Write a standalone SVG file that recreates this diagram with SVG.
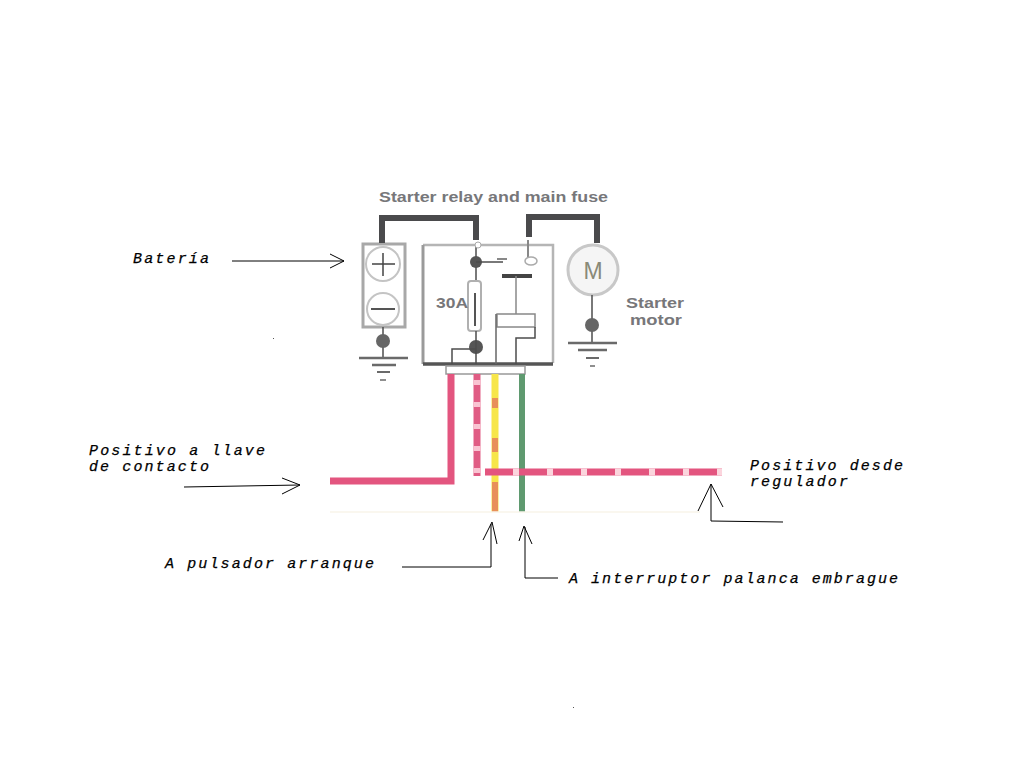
<svg xmlns="http://www.w3.org/2000/svg" width="1024" height="768" viewBox="0 0 1024 768">
<style>
.lbl{font-family:"Liberation Mono",monospace;font-style:italic;font-size:15px;fill:#000;stroke:#000;stroke-width:.25}
.prn{font-family:"Liberation Sans",sans-serif;font-weight:bold;fill:#77777a}
.thick{fill:none;stroke:#4a4a4c;stroke-width:6}
.box{fill:#fff;stroke:#a8a8a8;stroke-width:3}
.thin{fill:none;stroke:#4c4c4c;stroke-width:1.5}
.gnd{stroke:#6a6a6a;fill:none}
.ptr{fill:none;stroke:#000;stroke-width:1}
.pink{fill:none;stroke:#e3557f;stroke-width:7}
.dash{fill:none;stroke:#fbd5dd;stroke-width:7;stroke-dasharray:6 28}
</style>
<rect width="1024" height="768" fill="#fff"/>
<g id="title"><text class="prn" x="379" y="202" font-size="15.5" textLength="229" lengthAdjust="spacingAndGlyphs">Starter relay and main fuse</text></g>
<g id="battery">
<rect class="box" x="363" y="244" width="42" height="83"/>
<circle cx="383" cy="264" r="17" fill="#fff" stroke="#c4c4c4" stroke-width="2"/>
<circle cx="383" cy="309" r="16" fill="#fff" stroke="#c4c4c4" stroke-width="2"/>
<path d="M372 264H395M383 253V276" stroke="#444" stroke-width="1.5" fill="none"/>
<path d="M371 309H395" stroke="#555" stroke-width="2" fill="none"/>
<path class="thin" d="M383 327V358"/>
<circle cx="383" cy="341" r="7" fill="#666"/>
<path class="gnd" stroke-width="2.5" d="M359 358H408M372 365H396"/>
<path class="gnd" stroke-width="2" d="M377 372H390"/>
<path class="gnd" stroke-width="1.5" d="M380 380H386"/>
</g>
<g id="relay">
<path d="M423 245H553V363" fill="none" stroke="#b5b5b5" stroke-width="2.5"/>
<path d="M423 245V364" fill="none" stroke="#9a9a9a" stroke-width="3"/>
<path d="M423 364H553" stroke="#555" stroke-width="3.5" fill="none"/>
<path class="thin" d="M476 245V280"/>
<circle cx="476" cy="262" r="6" fill="#555"/>
<path class="thin" d="M476 262H503"/>
<circle cx="478" cy="245" r="3" fill="#fff" stroke="#aaa"/>
<path d="M497 259H507M528 240V258" stroke="#888" stroke-width="2" fill="none"/>
<ellipse cx="531" cy="261" rx="6" ry="4" fill="#fff" stroke="#aaa" stroke-width="1.5"/>
<path d="M502 276H532" stroke="#444" stroke-width="4"/>
<path d="M516 276V314" stroke="#888" stroke-width="1.5"/>
<rect x="468" y="281" width="13" height="50" rx="3" fill="#fff" stroke="#b0b0b0" stroke-width="2"/>
<path d="M475 293V326" stroke="#555" stroke-width="2"/>
<text class="prn" x="436" y="308" font-size="15" textLength="32" lengthAdjust="spacingAndGlyphs">30A</text>
<circle cx="476" cy="347" r="7" fill="#555"/>
<path class="thin" d="M476 331V364M476 349H452V364"/>
<rect x="497" y="314" width="38" height="13" fill="#fff" stroke="#888" stroke-width="1.5"/>
<path d="M496 314V364" stroke="#666" stroke-width="1.5"/>
<path class="thin" d="M535 327V338H516V364"/>
<rect x="446" y="366" width="79" height="8" fill="#fff" stroke="#999" stroke-width="1.5"/>
</g>
<g id="motor">
<circle cx="593" cy="270" r="25" fill="#f5f5f5" stroke="#c8c8c8" stroke-width="3"/>
<text x="593" y="279" text-anchor="middle" font-family="Liberation Sans, sans-serif" font-size="23" fill="#8a8a78">M</text>
<path class="thin" d="M592 295V342"/>
<circle cx="592" cy="325" r="7" fill="#666"/>
<path class="gnd" stroke-width="2.5" d="M568 343H617M578 350H607"/>
<path class="gnd" stroke-width="2" d="M586 358H599"/>
<path class="gnd" stroke-width="1.5" d="M590 366H595"/>
<text class="prn" x="626" y="308" font-size="15" textLength="58" lengthAdjust="spacingAndGlyphs">Starter</text>
<text class="prn" x="630" y="325" font-size="15" textLength="52" lengthAdjust="spacingAndGlyphs">motor</text>
</g>
<g id="connectors">
<path class="thick" d="M382 243V218H476V240"/>
<path class="thick" d="M529 237V217H597V243"/>
<path class="pink" d="M330 481H451V374"/>
<path d="M477 374V476" stroke="#e05c84" stroke-width="7" fill="none"/>
<path d="M477 380V476" stroke="#f9c4d2" stroke-width="7" stroke-dasharray="5 17" fill="none"/>
<path d="M495 374V512" stroke="#f7e64a" stroke-width="7" fill="none"/>
<path d="M495 398V408M495 438V452M495 482V512" stroke="#e8905a" stroke-width="6" fill="none"/>
<path d="M522 374V512" stroke="#5f9a70" stroke-width="6" fill="none"/>
<path d="M485 472H722" stroke="#e3557f" stroke-width="7" fill="none"/>
<path class="dash" d="M513 472H722"/>
<path d="M330 512H700" stroke="#f8f5ea" stroke-width="1.5" fill="none"/>
</g>
<g id="pointers">
<path class="ptr" d="M232 261H344M330 254L344 261L330 268"/>
<path class="ptr" d="M184 487L300 485M282 478L300 485L282 494"/>
<path class="ptr" d="M402 567H491V524M483 540L492 522L497 544"/>
<path class="ptr" d="M783 522L711 521V484M698 511L711 484L723 507"/>
<path class="ptr" d="M558 578H525V527M519 541L524 526L532 544"/>
</g>
<g id="labels">
<text class="lbl" x="133" y="263" textLength="76">Batería</text>
<text class="lbl" x="89" y="455" textLength="176">Positivo a llave</text>
<text class="lbl" x="89" y="471" textLength="120">de contacto</text>
<text class="lbl" x="750" y="470" textLength="153">Positivo desde</text>
<text class="lbl" x="750" y="486" textLength="98">regulador</text>
<text class="lbl" x="165" y="568" textLength="209">A pulsador arranque</text>
<text class="lbl" x="569" y="583" textLength="329">A interruptor palanca embrague</text>
</g>
<rect x="273" y="338" width="1" height="1" fill="#555"/>
<rect x="573" y="707" width="1" height="1" fill="#555"/>
</svg>
